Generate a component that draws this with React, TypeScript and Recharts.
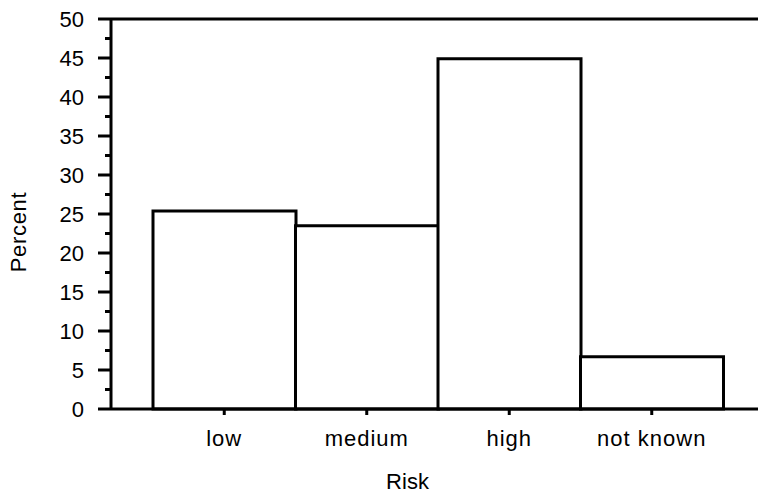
import { BarChart, Bar, XAxis, YAxis, ReferenceLine, Label } from 'recharts';

const categories = ['low', 'medium', 'high', 'not known'];
const percents = [25.4, 23.5, 44.9, 6.7];
const yTicks = [0, 2.5, 5, 7.5, 10, 12.5, 15, 17.5, 20, 22.5, 25, 27.5, 30, 32.5, 35, 37.5, 40, 42.5, 45, 47.5, 50];

const data = categories.map((risk, i) => ({ risk, percent: percents[i] }));

const FONT = '"Liberation Sans", Arial, sans-serif';
const SIZE = 22;

function YTick(props: any) {
  const { x, y, payload } = props;
  const major = payload.value % 5 === 0;
  return (
    <g>
      <line x1={x - (major ? 13 : 6)} x2={x} y1={y} y2={y} stroke="#000" strokeWidth={3} />
      {major && (
        <text x={x - 27} y={y} dy="0.36em" textAnchor="end" fontFamily={FONT} fontSize={SIZE} fill="#000">
          {payload.value}
        </text>
      )}
    </g>
  );
}

function XTick(props: any) {
  const { x, y, payload } = props;
  return (
    <g>
      <line x1={x} x2={x} y1={y} y2={y + 6} stroke="#000" strokeWidth={3} />
      <text x={x} y={y + 37} textAnchor="middle" fontFamily={FONT} fontSize={SIZE} letterSpacing={1} fill="#000">
        {payload.value}
      </text>
    </g>
  );
}

export default function App() {
  return (
    <div>
      {/* drop the default body margin so the svg fills the page */}
      <style>{'body { margin: 0; }'}</style>
      <BarChart
        width={758}
        height={495}
        data={data}
        margin={{ top: 19, right: 0, bottom: 0, left: 0 }}
        barCategoryGap={0}
      >
        <XAxis
          dataKey="risk"
          height={86}
          padding={{ left: 42, right: 35 }}
          axisLine={{ stroke: '#000', strokeWidth: 3 }}
          tickLine={false}
          tickSize={0}
          tickMargin={0}
          tick={<XTick />}
          interval={0}
        >
          <Label
            value="Risk"
            position="insideBottom"
            offset={6}
            dx={-27}
            style={{ fontFamily: FONT, fontSize: SIZE, fill: '#000' }}
          />
        </XAxis>
        <YAxis
          width={111}
          domain={[0, 50]}
          ticks={yTicks}
          interval={0}
          axisLine={{ stroke: '#000', strokeWidth: 3 }}
          tickLine={false}
          tickSize={0}
          tickMargin={0}
          tick={<YTick />}
        >
          <Label
            content={(p: any) => (
              <g transform={`translate(18 ${p.viewBox.y + 213}) rotate(-90)`}>
                <text
                  x={0}
                  y={0}
                  dy="0.36em"
                  textAnchor="middle"
                  fontFamily={FONT}
                  fontSize={SIZE}
                  letterSpacing={0.7}
                  fill="#000"
                >
                  Percent
                </text>
              </g>
            )}
          />
        </YAxis>
        <ReferenceLine y={50} stroke="#000" strokeWidth={3} />
        <Bar dataKey="percent" fill="#fff" stroke="#000" strokeWidth={3} isAnimationActive={false} />
      </BarChart>
    </div>
  );
}
